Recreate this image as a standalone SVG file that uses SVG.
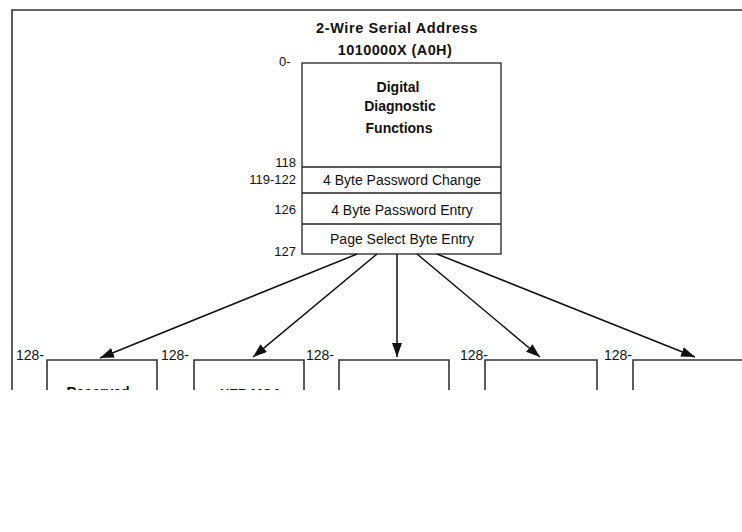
<svg xmlns="http://www.w3.org/2000/svg" width="742" height="532" viewBox="0 0 742 532">
<style>
.t{font-family:"Liberation Sans",Arial,sans-serif;fill:#111}
.b{font-weight:bold}
.s14{font-size:14px}
.s13{font-size:13px}
.box{fill:#fff;stroke:#222;stroke-width:1.3}
.frame{fill:none;stroke:#333;stroke-width:1.6}
.conn{fill:none;stroke:#111;stroke-width:1.5}
</style>
<defs>
<marker id="ah" viewBox="0 0 14 10" refX="14" refY="5" markerWidth="14" markerHeight="10" markerUnits="userSpaceOnUse" orient="auto">
<path d="M0,0 L14,5 L0,10 Z" fill="#111"/>
</marker>
<clipPath id="cut"><rect x="0" y="0" width="742" height="390"/></clipPath>
</defs>
<rect width="742" height="532" fill="#fff"/>
<g id="frame">
<path class="frame" d="M12,390 V10 H742"/>
</g>
<g id="title">
<text class="t b" x="397" y="33" text-anchor="middle" style="font-size:14.5px;letter-spacing:0.6px">2-Wire Serial Address</text>
<text class="t b" x="395" y="55" text-anchor="middle" style="font-size:14.5px;letter-spacing:0.4px">1010000X (A0H)</text>
</g>
<g id="main">
<rect class="box" x="302" y="63" width="199" height="191"/>
<line class="box" x1="302" y1="167" x2="501" y2="167"/>
<line class="box" x1="302" y1="193" x2="501" y2="193"/>
<line class="box" x1="302" y1="224" x2="501" y2="224"/>
<text class="t b s14" x="398" y="92" text-anchor="middle">Digital</text>
<text class="t b s14" x="400" y="111" text-anchor="middle">Diagnostic</text>
<text class="t b s14" x="399" y="133" text-anchor="middle">Functions</text>
<text class="t s14" x="402" y="185" text-anchor="middle">4 Byte Password Change</text>
<text class="t s14" x="402" y="215" text-anchor="middle">4 Byte Password Entry</text>
<text class="t s14" x="402" y="244" text-anchor="middle">Page Select Byte Entry</text>
<text class="t s13" x="279" y="66">0-</text>
<text class="t s13" x="296" y="167" text-anchor="end">118</text>
<text class="t s13" x="296" y="184" text-anchor="end">119-122</text>
<text class="t s13" x="296" y="214" text-anchor="end">126</text>
<text class="t s13" x="296" y="256" text-anchor="end">127</text>
</g>
<g id="connectors">
<line class="conn" x1="357" y1="254" x2="100" y2="358" marker-end="url(#ah)"/>
<line class="conn" x1="377" y1="254" x2="253" y2="357" marker-end="url(#ah)"/>
<line class="conn" x1="397" y1="254" x2="397" y2="357" marker-end="url(#ah)"/>
<line class="conn" x1="417" y1="254" x2="540" y2="357" marker-end="url(#ah)"/>
<line class="conn" x1="437" y1="254" x2="695" y2="357" marker-end="url(#ah)"/>
</g>
<g id="table1" clip-path="url(#cut)">
<path class="frame" d="M47,390 V360 H157 V390"/>
<text class="t s14" x="16" y="360">128-</text>
<text class="t b s14" x="98" y="397" text-anchor="middle">Reserved</text>
</g>
<g id="table2" clip-path="url(#cut)">
<path class="frame" d="M194,390 V360 H304 V390"/>
<text class="t s14" x="161" y="360">128-</text>
<text class="t b s14" x="251" y="398.5" text-anchor="middle">XFP MSA</text>
</g>
<g id="table3" clip-path="url(#cut)">
<path class="frame" d="M339,390 V360 H449 V390"/>
<text class="t s14" x="306" y="360">128-</text>
</g>
<g id="table4" clip-path="url(#cut)">
<path class="frame" d="M485,390 V360 H597 V390"/>
<text class="t s14" x="460" y="360">128-</text>
</g>
<g id="table5" clip-path="url(#cut)">
<path class="frame" d="M633,390 V360 H742"/>
<text class="t s14" x="604" y="360">128-</text>
</g>
</svg>
